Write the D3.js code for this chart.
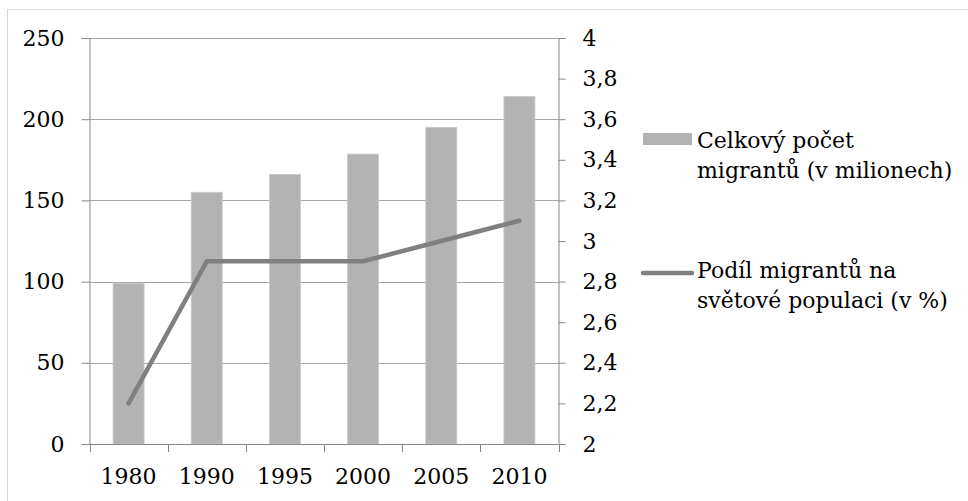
<!DOCTYPE html>
<html><head><meta charset="utf-8">
<script src="https://cdn.jsdelivr.net/npm/d3@7"></script>
<style>body{margin:0;background:#fff}svg{display:block}</style>
</head><body><svg id="c" width="968" height="501"></svg>
<script>
const years = ["1980","1990","1995","2000","2005","2010"];
const migrants = [99, 155, 166, 178.5, 195, 214];
const share = [2.2, 2.9, 2.9, 2.9, 3.0, 3.1];
const leftTicks = [0, 50, 100, 150, 200, 250];
const rightTicks = [2, 2.2, 2.4, 2.6, 2.8, 3, 3.2, 3.4, 3.6, 3.8, 4];
const seriesNames = [["Celkový počet", "migrantů (v milionech)"], ["Podíl migrantů na", "světové populaci (v %)"]];

const svg = d3.select("#c");
const font = "'DejaVu Serif', serif";
const fs = 22;
const m = {l: 89.5, r: 558.5, t: 38, b: 444};

svg.append("rect").attr("x", 7.5).attr("y", 9.5).attr("width", 980).attr("height", 520)
  .attr("fill", "#fff").attr("stroke", "#d9d9d9").attr("stroke-width", 1);

const xb = d3.scaleBand().domain(years).range([m.l, m.r]);
const yL = d3.scaleLinear().domain([0, 250]).range([m.b, m.t]);
const yR = d3.scaleLinear().domain([2, 4]).range([m.b, m.t]);

// gridlines
svg.append("g").selectAll("line").data(leftTicks.filter(d => d > 0)).join("line")
  .attr("x1", m.l).attr("x2", m.r).attr("y1", d => Math.round(yL(d)) + 0.5).attr("y2", d => Math.round(yL(d)) + 0.5)
  .attr("stroke", "#a6a6a6").attr("stroke-width", 1);

// bars
svg.append("g").selectAll("rect").data(migrants).join("rect")
  .attr("x", (d, i) => xb(years[i]) + xb.bandwidth() / 2 - 15.5)
  .attr("width", 31)
  .attr("y", d => yL(d)).attr("height", d => yL(0) - yL(d))
  .attr("fill", "#b3b3b3").attr("stroke", "#c8c8c8").attr("stroke-width", 0.8);

// left axis
const gL = svg.append("g").attr("transform", `translate(${m.l},0)`)
  .call(d3.axisLeft(yL).tickValues(leftTicks).tickSize(8).tickPadding(17).tickFormat(d3.format("d")));
// right axis
const gR = svg.append("g").attr("transform", `translate(${m.r},0)`)
  .call(d3.axisRight(yR).tickValues(rightTicks).tickSize(7).tickPadding(17).tickFormat(d => String(d).replace(".", ",")));
// bottom axis
const gB = svg.append("g").attr("transform", `translate(0,${m.b + 0.5})`)
  .call(d3.axisBottom(xb).tickSize(0).tickPadding(24));
// bottom ticks at band edges
svg.append("g").selectAll("line").data(years.map(y => xb(y)).concat([m.r])).join("line")
  .attr("x1", d => Math.round(d) + 0.5).attr("x2", d => Math.round(d) + 0.5)
  .attr("y1", m.b).attr("y2", m.b + 8).attr("stroke", "#868686");

[gL, gR, gB].forEach(g => {
  g.selectAll("path.domain").attr("stroke", "#868686");
  g.selectAll(".tick line").attr("stroke", "#868686");
  g.selectAll("text").attr("font-family", font).attr("font-size", fs).attr("fill", "#000");
});
gB.select("path.domain").remove();
svg.append("line").attr("x1", m.l).attr("x2", m.r).attr("y1", m.b + 0.5).attr("y2", m.b + 0.5).attr("stroke", "#868686");
gB.selectAll("text").attr("dy", "0.71em");

// line
const line = d3.line().x((d, i) => xb(years[i]) + xb.bandwidth() / 2).y(d => yR(d));
svg.append("path").datum(share).attr("d", line).attr("fill", "none")
  .attr("stroke", "#808080").attr("stroke-width", 4.5).attr("stroke-linecap", "round").attr("stroke-linejoin", "round");

// legend
const lg = svg.append("g");
lg.append("rect").attr("x", 643).attr("y", 133).attr("width", 49).attr("height", 12).attr("fill", "#b3b3b3");
lg.append("line").attr("x1", 643).attr("x2", 692).attr("y1", 273).attr("y2", 273)
  .attr("stroke", "#808080").attr("stroke-width", 4.5).attr("stroke-linecap", "round");
const legY = [148, 278];
seriesNames.forEach((lines, k) => {
  lines.forEach((t, j) => {
    lg.append("text").attr("x", 697).attr("y", legY[k] + j * 30).text(t)
      .attr("font-family", font).attr("font-size", fs).attr("fill", "#000");
  });
});
</script></body></html>
